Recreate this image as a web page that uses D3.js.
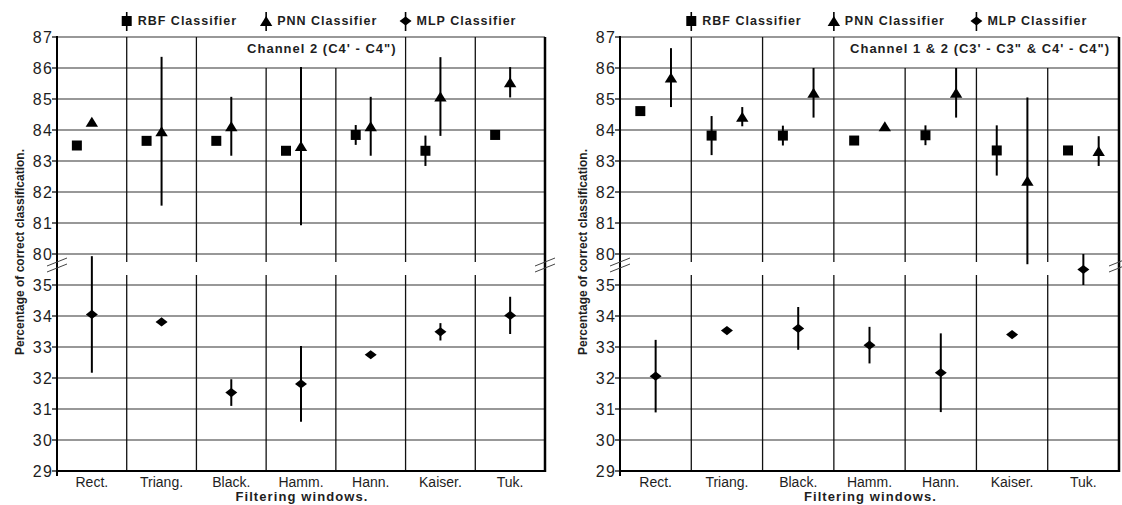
<!DOCTYPE html>
<html>
<head>
<meta charset="utf-8">
<script src="https://cdn.jsdelivr.net/npm/d3@7"></script>
<style>
  html, body { margin: 0; padding: 0; background: #fff; }
  svg { display: block; }
  text { font-family: "Liberation Sans", Arial, sans-serif; fill: #1e1e1e; }
</style>
</head>
<body>
<svg id="chart" width="1122" height="505"></svg>
<script>
// ---------------- data ----------------
const categories = ["Rect.", "Triang.", "Black.", "Hamm.", "Hann.", "Kaiser.", "Tuk."];
const upperTicks = [80, 81, 82, 83, 84, 85, 86, 87];
const lowerTicks = [29, 30, 31, 32, 33, 34, 35];
const seriesNames = ["RBF Classifier", "PNN Classifier", "MLP Classifier"];

// Channel 2 (C4' - C4'')
const ch2Title = "Channel 2 (C4' - C4\")";
const ch2RBF = [83.50, 83.65, 83.65, 83.33, 83.84, 83.33, 83.84];
const ch2RBFerr = [0.05, 0.10, 0.10, 0.10, 0.32, 0.49, 0.05];
const ch2PNN = [84.27, 83.96, 84.12, 83.48, 84.12, 85.08, 85.54];
const ch2PNNerr = [0.00, 2.40, 0.95, 2.55, 0.95, 1.27, 0.49];
const ch2MLP = [34.05, 33.81, 31.53, 31.81, 32.75, 33.49, 34.02];
const ch2MLPerr = [1.88, 0.00, 0.43, 1.22, 0.00, 0.28, 0.60];

// Channel 1 & 2 (C3' - C3'' & C4' - C4'')
const ch12Title = "Channel 1 & 2 (C3' - C3\" & C4' - C4\")";
const ch12RBF = [84.61, 83.82, 83.82, 83.66, 83.83, 83.34, 83.34];
const ch12RBFerr = [0.12, 0.63, 0.32, 0.06, 0.32, 0.81, 0.07];
const ch12PNN = [85.69, 84.43, 85.20, 84.12, 85.20, 82.36, 83.32];
const ch12PNNerr = [0.95, 0.31, 0.80, 0.00, 0.80, 2.69, 0.48];
const ch12MLP = [32.06, 33.53, 33.60, 33.06, 32.17, 33.40, 35.50];
const ch12MLPerr = [1.17, 0.00, 0.69, 0.59, 1.27, 0.00, 0.50];

const yTitle = "Percentage of correct classification.";
const xTitle = "Filtering windows.";

// ---------------- layout ----------------
const svg = d3.select("#chart");
const yTop = 37, yBreak = 254, yBottom = 471;
const yUpper = d3.scaleLinear().domain([80, 87]).range([yBreak, yTop]);
const yLower = d3.scaleLinear().domain([29, 36]).range([yBottom, yBreak]);
const y = v => (v >= 60 ? yUpper(v) : yLower(v));

const shapes = {
  square: "M-5,-5h10v10h-10z",
  triangle: "M0,-5L6.2,5L-6.2,5Z",
  diamond: "M0,-4.6L6,0L0,4.6L-6,0Z"
};

const panels = [
  { x0: 57, x1: 545, title: ch2Title, boxFrom: 2, boxTo: 5,
    series: [
      { vals: ch2RBF, errs: ch2RBFerr, shape: "square", off: -0.215 },
      { vals: ch2PNN, errs: ch2PNNerr, shape: "triangle", off: 0 },
      { vals: ch2MLP, errs: ch2MLPerr, shape: "diamond", off: 0 }
    ] },
  { x0: 620, x1: 1119, title: ch12Title, boxFrom: 3, boxTo: 7,
    series: [
      { vals: ch12RBF, errs: ch12RBFerr, shape: "square", off: -0.215 },
      { vals: ch12PNN, errs: ch12PNNerr, shape: "triangle", off: 0.215 },
      { vals: ch12MLP, errs: ch12MLPerr, shape: "diamond", off: 0 }
    ] }
];

panels.forEach(p => {
  const g = svg.append("g");
  const x = d3.scaleBand().domain(categories).range([p.x0, p.x1]).padding(0);
  const bw = x.bandwidth();

  // horizontal grid lines
  const allTicks = upperTicks.map(t => y(t)).concat(lowerTicks.map(t => y(t)));
  g.selectAll("line.h").data(allTicks).join("line")
    .attr("x1", p.x0).attr("x2", p.x1)
    .attr("y1", d => d).attr("y2", d => d)
    .attr("stroke", "#333").attr("stroke-width", 1.1);

  // vertical category separators (with gap at the axis break)
  d3.range(1, categories.length).forEach(i => {
    const xx = p.x0 + i * bw;
    const inBox = i > p.boxFrom && i < p.boxTo;
    g.append("line").attr("x1", xx).attr("x2", xx)
      .attr("y1", inBox ? y(86) : yTop).attr("y2", 262)
      .attr("stroke", "#111").attr("stroke-width", 1.3);
    g.append("line").attr("x1", xx).attr("x2", xx)
      .attr("y1", 275).attr("y2", yBottom)
      .attr("stroke", "#111").attr("stroke-width", 1.3);
  });

  // title box
  const bx0 = p.x0 + p.boxFrom * bw, bx1 = p.x0 + p.boxTo * bw;
  g.append("rect").attr("x", bx0 + 1).attr("y", yTop + 1)
    .attr("width", bx1 - bx0 - 2).attr("height", y(86) - yTop - 2)
    .attr("fill", "#fff");
  g.append("text").attr("x", bx1 - 9).attr("y", 53)
    .attr("text-anchor", "end").attr("font-size", 13).attr("font-weight", "bold")
    .attr("letter-spacing", 1)
    .text(p.title);

  // frame: left axis, bottom axis, right border
  g.append("line").attr("x1", p.x0).attr("x2", p.x0).attr("y1", yTop - 1).attr("y2", yBottom + 5)
    .attr("stroke", "#000").attr("stroke-width", 2);
  g.append("line").attr("x1", p.x0).attr("x2", p.x1 + 1).attr("y1", yBottom).attr("y2", yBottom)
    .attr("stroke", "#000").attr("stroke-width", 2);
  g.append("line").attr("x1", p.x1).attr("x2", p.x1).attr("y1", yTop).attr("y2", yBottom + 1)
    .attr("stroke", "#000").attr("stroke-width", 2.5);

  // y ticks and labels
  const tickVals = upperTicks.concat(lowerTicks);
  tickVals.forEach(t => {
    g.append("line").attr("x1", p.x0 - 5).attr("x2", p.x0).attr("y1", y(t)).attr("y2", y(t))
      .attr("stroke", "#000").attr("stroke-width", 1.2);
    g.append("text").attr("x", p.x0 - 4).attr("y", y(t) + 5.5)
      .attr("text-anchor", "end").attr("font-size", 16).attr("letter-spacing", 1.2)
      .text(t);
  });

  // x tick labels
  g.selectAll("text.xl").data(categories).join("text")
    .attr("x", d => x(d) + bw / 2).attr("y", 487)
    .attr("text-anchor", "middle").attr("font-size", 14)
    .text(d => d);

  // axis titles
  g.append("text").attr("x", (p.x0 + p.x1) / 2 + 1).attr("y", 501)
    .attr("text-anchor", "middle").attr("font-size", 13).attr("font-weight", "bold")
    .attr("letter-spacing", 1.1).text(xTitle);
  g.append("text")
    .attr("transform", `translate(${p.x0 - 33},252) rotate(-90)`)
    .attr("text-anchor", "middle").attr("font-size", 12).attr("font-weight", "bold")
    .text(yTitle);

  // break marks
  const brk = (cx, cy) => {
    [-3, 3].forEach(dy => {
      g.append("line").attr("x1", cx - 10).attr("y1", cy + 4 + dy)
        .attr("x2", cx + 10).attr("y2", cy - 4 + dy)
        .attr("stroke", "#444").attr("stroke-width", 1);
    });
  };
  brk(p.x0, 265);
  brk(p.x1, 265);

  // data: error bars + markers
  p.series.forEach(s => {
    categories.forEach((c, i) => {
      const cx = x(c) + bw / 2 + s.off * bw;
      const v = s.vals[i], e = s.errs[i];
      if (e > 0) {
        g.append("line").attr("x1", cx).attr("x2", cx)
          .attr("y1", y(v + e)).attr("y2", y(v - e))
          .attr("stroke", "#000").attr("stroke-width", 2);
      }
      g.append("path").attr("d", shapes[s.shape])
        .attr("transform", `translate(${cx},${y(v)})`)
        .attr("fill", "#000");
    });
  });

  // legend (markers sit on category boundaries 1, 3, 5)
  ["square", "triangle", "diamond"].forEach((sh, k) => {
    const mx = p.x0 + (1 + 2 * k) * bw;
    g.append("line").attr("x1", mx).attr("x2", mx).attr("y1", 12).attr("y2", 31)
      .attr("stroke", "#000").attr("stroke-width", 1.6);
    g.append("path").attr("d", shapes[sh])
      .attr("transform", `translate(${mx},21)`).attr("fill", "#000");
    g.append("text").attr("x", mx + 11).attr("y", 25)
      .attr("font-size", 12.5).attr("font-weight", "bold").attr("letter-spacing", 1)
      .text(seriesNames[k]);
  });
});
</script>
</body>
</html>
